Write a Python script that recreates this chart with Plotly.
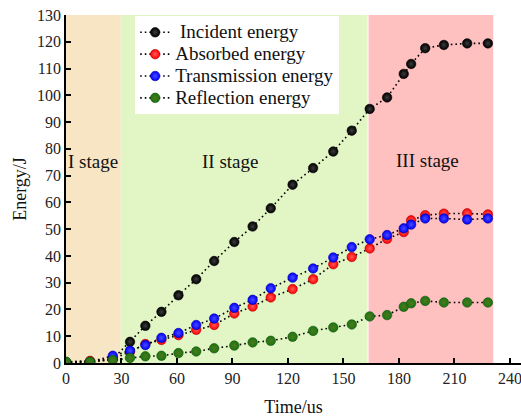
import plotly.graph_objects as go

# ---- data ----
time_us = [0, 13, 25.3, 34.6, 42.9, 51.6, 60.8, 70.4, 80.1, 91.0, 100.9, 110.7,
           122.5, 133.6, 144.5, 154.5, 164.2, 173.6, 182.6, 186.6, 194.2, 204.3,
           216.9, 228.1]
incident = [0.3, 0.3, 1.5, 7.9, 13.9, 19.1, 25.3, 31.3, 38.1, 45.2, 51.0, 57.8,
            66.6, 72.8, 79.0, 86.8, 94.9, 99.2, 108.0, 111.7, 117.6, 118.8, 119.4, 119.4]
absorbed = [0.3, 0.8, 1.5, 4.2, 7.1, 8.6, 10.4, 12.4, 14.2, 18.5, 21.1, 24.5,
            27.6, 31.3, 36.9, 39.6, 42.8, 46.4, 48.9, 53.3, 55.2, 55.8, 55.9, 55.5]
transmission = [0.3, 0.4, 2.7, 4.6, 6.7, 9.4, 11.2, 14.2, 16.6, 20.6, 23.6, 27.9,
                31.9, 35.3, 39.4, 43.3, 46.2, 47.8, 50.3, 51.7, 54.0, 54.0, 53.6, 54.0]
reflection = [0.5, 0.5, 1.1, 1.9, 2.5, 2.7, 3.7, 4.3, 5.5, 6.5, 7.7, 8.3,
              9.8, 12.0, 13.3, 14.4, 17.4, 17.9, 21.0, 22.3, 23.2, 22.6, 22.6, 22.6]

series_names = ["\u00a0Incident energy", "Absorbed energy", "Transmission energy", "Reflection energy"]
series_values = [incident, absorbed, transmission, reflection]

stage_bounds = [0, 29.6, 163.3, 231.0]
stage_labels = ["I stage", "II stage", "III stage"]
stage_label_x = [14.8, 88.6, 195.5]
stage_label_y = [75.2, 75.2, 75.8]

x_ticks = [0, 30, 60, 90, 120, 150, 180, 210, 240]

# ---- styles ----
marker_colors = ["#000000", "#ff0000", "#0000ff", "#1a7810"]
marker_centers = ["#3c3c3c", "#ff5a5a", "#4a4aff", "#4f7620"]
marker_edges = ["#000000", "#b00000", "#0000a0", "#0f4f0a"]
stage_colors = ["#F8E5C3", "#E2F6C5", "#FFC0C0"]
FONT = "Liberation Serif"

fig = go.Figure()
for name, vals, c, cc, ce in zip(series_names, series_values, marker_colors, marker_centers, marker_edges):
    fig.add_trace(go.Scatter(
        x=time_us, y=vals, name=f"<span style='font-size:19px'>{name}</span>",
        mode="lines+markers",
        line=dict(color="black", width=1.6, dash="1.6px,3px"),
        marker=dict(size=9.5, color=c, line=dict(color=ce, width=0.6),
                    gradient=dict(type="radial", color=cc)),
    ))

shapes = []
for i in range(3):
    shapes.append(dict(type="rect", xref="x", yref="y", x0=stage_bounds[i], x1=stage_bounds[i + 1],
                       y0=0, y1=130, fillcolor=stage_colors[i], line=dict(width=0), layer="below"))
shapes.append(dict(type="line", xref="x", yref="y", x0=stage_bounds[2], x1=stage_bounds[2],
                   y0=0, y1=130, line=dict(color="white", width=1), layer="below"))

annotations = [dict(x=x, y=y, xref="x", yref="y", text=t, showarrow=False,
                    font=dict(family=FONT, size=19, color="#111"))
               for t, x, y in zip(stage_labels, stage_label_x, stage_label_y)]

axis_common = dict(showline=True, linecolor="black", linewidth=1.5, ticks="inside",
                   ticklen=5, tickwidth=1.5, tickcolor="black", showgrid=False, zeroline=False,
                   ticklabeloverflow="allow",
                   tickfont=dict(family=FONT, size=16, color="#222"))

fig.update_layout(
    width=521, height=419,
    margin=dict(l=66, r=0, t=15, b=56),
    paper_bgcolor="white", plot_bgcolor="white",
    font=dict(family=FONT, color="#111"),
    shapes=shapes, annotations=annotations,
    xaxis=dict(range=[0, 246], tickvals=x_ticks,
               title=dict(text="Time/us", font=dict(family=FONT, size=18, color="#111"), standoff=14),
               **axis_common),
    yaxis=dict(range=[0, 130], dtick=10, tick0=0,
               title=dict(text="Energy/J", font=dict(family=FONT, size=18, color="#111"), standoff=6),
               **axis_common),
    legend=dict(x=0.152, y=0.996, xanchor="left", yanchor="top", bgcolor="white",
                borderwidth=0, font=dict(family=FONT, size=14.5, color="#111"),
                itemwidth=30),
    showlegend=True,
)

fig.write_html("out.html")
